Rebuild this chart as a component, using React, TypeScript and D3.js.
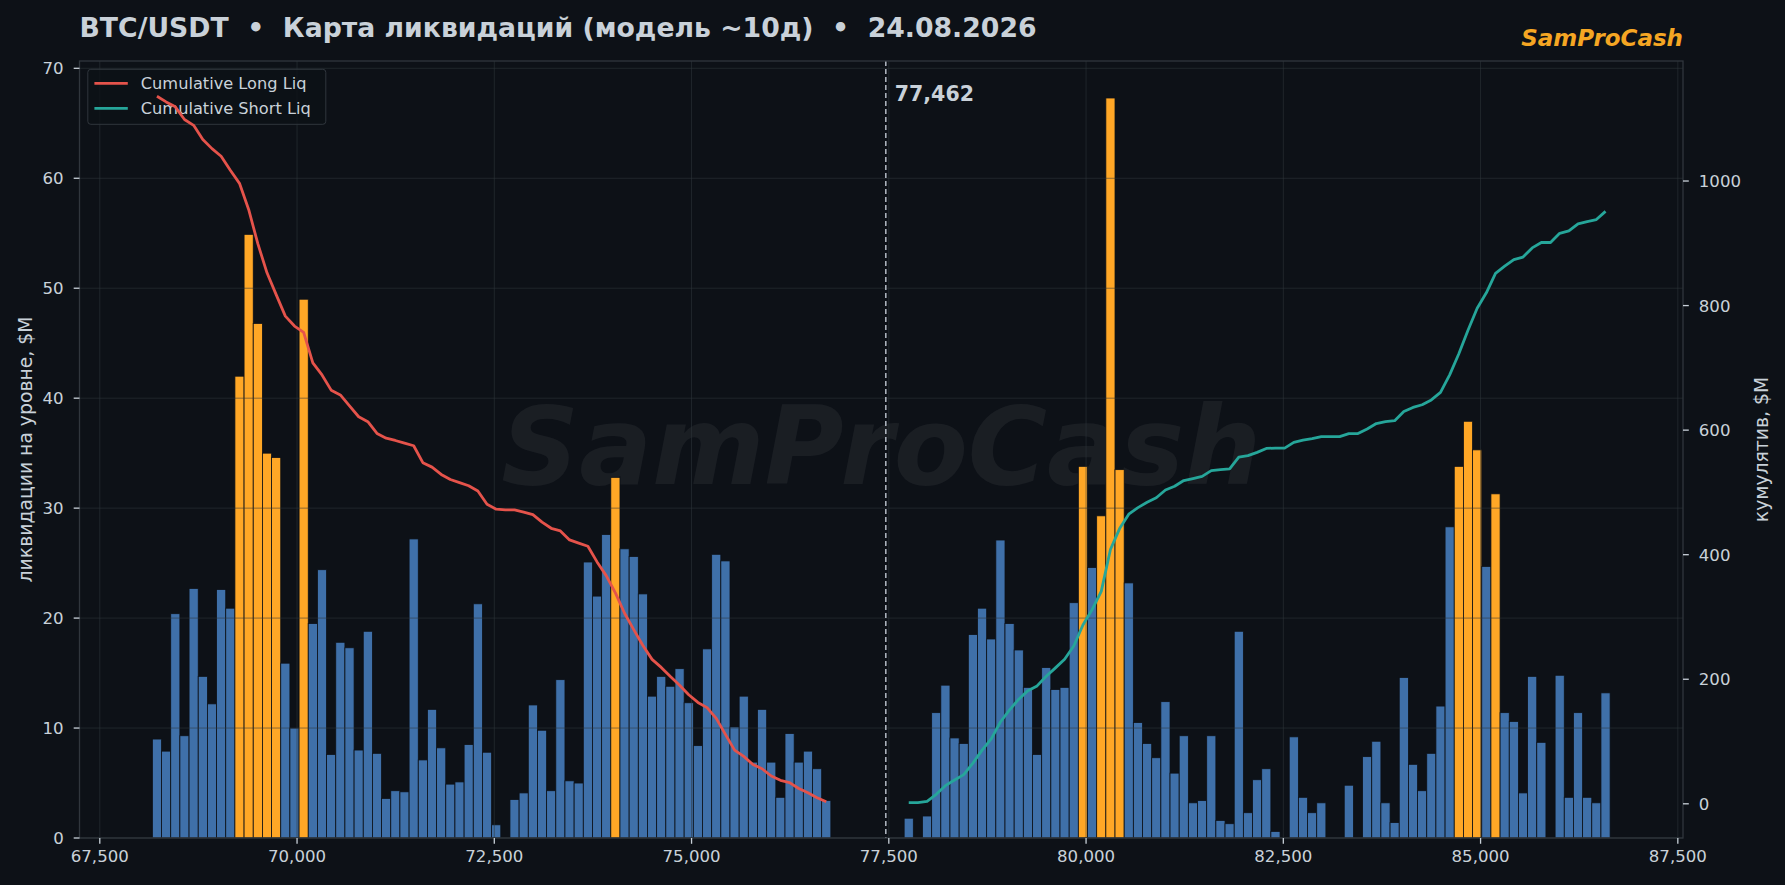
import * as d3 from "d3";
import { useRef, useEffect } from "react";

// price levels: bins of ~0.15% of current price
const PRICE = 77462;
const BIN_STEP = 116.2;
const LONG_START = 68166.6;
const SHORT_START = 77694.4;
const HOT_LEVEL = 28.8; // bars above this are highlighted

// liquidations per level, $M (below price -> longs, above -> shorts)
const longLiq = [
  9.0, 7.9, 20.4, 9.3, 22.7, 14.7, 12.2, 22.6, 20.9, 42.0,
  54.9, 46.8, 35.0, 34.6, 15.9, 10.0, 49.0, 19.5, 24.4, 7.6,
  17.8, 17.3, 8.0, 18.8, 7.7, 3.6, 4.3, 4.2, 27.2, 7.1,
  11.7, 8.2, 4.9, 5.1, 8.5, 21.3, 7.8, 1.2, 0, 3.5,
  4.1, 12.1, 9.8, 4.3, 14.4, 5.2, 5.0, 25.1, 22.0, 27.6,
  32.8, 26.3, 25.6, 22.2, 12.9, 14.7, 13.8, 15.4, 12.3, 8.4,
  17.2, 25.8, 25.2, 10.1, 12.9, 6.9, 11.7, 6.9, 3.7, 9.5,
  6.9, 7.9, 6.3, 3.4,
];

const shortLiq = [
  1.8, 0, 2.0, 11.4, 13.9, 9.1, 8.6, 18.5, 20.9, 18.1,
  27.1, 19.5, 17.1, 13.7, 7.6, 15.5, 13.5, 13.7, 21.4, 33.8,
  24.6, 29.3, 67.3, 33.5, 23.2, 10.5, 8.6, 7.3, 12.4, 5.9,
  9.3, 3.2, 3.4, 9.3, 1.6, 1.3, 18.8, 2.3, 5.3, 6.3,
  0.6, 0, 9.2, 3.7, 2.3, 3.2, 0, 0, 4.8, 0,
  7.4, 8.8, 3.2, 1.4, 14.6, 6.7, 4.3, 7.7, 12.0, 28.3,
  33.8, 37.9, 35.3, 24.7, 31.3, 11.4, 10.6, 4.1, 14.7, 8.7,
  0, 14.8, 3.7, 11.4, 3.7, 3.2, 13.2,
];

const xTicks = [67500, 70000, 72500, 75000, 77500, 80000, 82500, 85000, 87500];
const yTicks = [0, 10, 20, 30, 40, 50, 60, 70];
const cumTicks = [0, 200, 400, 600, 800, 1000];

const TITLE = "BTC/USDT  •  Карта ликвидаций (модель ~10д)  •  24.08.2026";
const BRAND = "SamProCash";
const Y_LABEL = "ликвидации на уровне, $M";
const Y2_LABEL = "кумулятив, $M";
const LONG_NAME = "Cumulative Long Liq";
const SHORT_NAME = "Cumulative Short Liq";

const BG = "#0d1117";
const GRID = "#30363d";
const TEXT = "#c9d1d9";
const BLUE = "#3f70a9";
const ORANGE = "#ffa726";
const RED = "#e5534b";
const TEAL = "#26a69a";
const FONT = "DejaVu Sans, sans-serif";

type Bin = { x0: number; x1: number; v: number };

export default function App() {
  const svgRef = useRef<SVGSVGElement | null>(null);

  useEffect(() => {
    document.body.style.margin = "0";
    document.body.style.background = BG;

    const W = 1785;
    const H = 885;
    const L = 79.5, R = 1683, T = 61, B = 838;

    const svg = d3.select(svgRef.current);
    svg.selectAll("*").remove();
    svg.attr("viewBox", `0 0 ${W} ${H}`).style("font-family", FONT);

    const toBins = (start: number, vals: number[]): Bin[] =>
      vals.map((v, i) => ({ x0: start + i * BIN_STEP, x1: start + (i + 1) * BIN_STEP, v }));
    const longBins = toBins(LONG_START, longLiq);
    const shortBins = toBins(SHORT_START, shortLiq);
    const allBins = [...longBins, ...shortBins];

    const lo = d3.min(allBins, d => d.x0)!;
    const hi = d3.max(allBins, d => d.x1)!;
    const padX = (hi - lo) * 0.05;
    const x = d3.scaleLinear().domain([lo - padX, hi + padX]).range([L, R]);
    const y = d3.scaleLinear().domain([0, d3.max(allBins, d => d.v)! * 1.05]).range([B, T]);

    // cumulative: longs summed from price downwards, shorts upwards
    const longCum = Array.from(d3.cumsum(longLiq.slice().reverse())).reverse();
    const shortCum = Array.from(d3.cumsum(shortLiq));
    const longPts = longBins.map((b, i) => [(b.x0 + b.x1) / 2, longCum[i]] as [number, number]);
    const shortPts = shortBins.map((b, i) => [(b.x0 + b.x1) / 2, shortCum[i]] as [number, number]);
    const cumAll = [...longCum, ...shortCum];
    const cMin = d3.min(cumAll)!, cMax = d3.max(cumAll)!;
    const padC = (cMax - cMin) * 0.05;
    const y2 = d3.scaleLinear().domain([cMin - padC, cMax + padC]).range([B, T]);

    svg.append("rect").attr("width", W).attr("height", H).attr("fill", BG);

    // watermark
    svg.append("text")
      .attr("x", (L + R) / 2)
      .attr("y", 484)
      .attr("text-anchor", "middle")
      .attr("font-size", 108)
      .attr("font-weight", 700)
      .attr("font-style", "italic")
      .attr("fill", "#ffffff")
      .attr("fill-opacity", 0.055)
      .text(BRAND);

    // bars
    svg.append("g")
      .selectAll("rect")
      .data(allBins.filter(d => d.v > 0))
      .join("rect")
      .attr("x", d => x(d.x0))
      .attr("width", d => x(d.x1) - x(d.x0))
      .attr("y", d => y(d.v))
      .attr("height", d => y(0) - y(d.v))
      .attr("fill", d => (d.v > HOT_LEVEL ? ORANGE : BLUE))
      .attr("stroke", BG)
      .attr("stroke-width", 0.8);

    // grid (above bars, below lines)
    const grid = svg.append("g").attr("stroke", GRID).attr("stroke-opacity", 0.55).attr("stroke-width", 1);
    grid.selectAll("line.gx")
      .data(xTicks)
      .join("line")
      .attr("class", "gx")
      .attr("x1", d => x(d)).attr("x2", d => x(d))
      .attr("y1", T).attr("y2", B);
    grid.selectAll("line.gy")
      .data(yTicks)
      .join("line")
      .attr("class", "gy")
      .attr("x1", L).attr("x2", R)
      .attr("y1", d => y(d)).attr("y2", d => y(d));

    // legend (belongs to the bar axes, lines go over it)
    const lg = svg.append("g").attr("transform", `translate(${L + 8.3},${T + 8.3})`);
    lg.append("rect")
      .attr("width", 238).attr("height", 55).attr("rx", 3)
      .attr("fill", BG).attr("fill-opacity", 0.8)
      .attr("stroke", GRID).attr("stroke-width", 1);
    [[LONG_NAME, RED], [SHORT_NAME, TEAL]].forEach(([name, c], i) => {
      const cy = 14 + i * 25;
      lg.append("line")
        .attr("x1", 6.6).attr("x2", 40).attr("y1", cy).attr("y2", cy)
        .attr("stroke", c).attr("stroke-width", 2.7);
      lg.append("text")
        .attr("x", 53).attr("y", cy).attr("dy", "0.35em")
        .attr("font-size", 16.2).attr("fill", TEXT)
        .text(name);
    });

    // cumulative lines
    const line = d3.line<[number, number]>().x(d => x(d[0])).y(d => y2(d[1]));
    svg.append("path").datum(longPts).attr("d", line)
      .attr("fill", "none").attr("stroke", RED).attr("stroke-width", 2.8).attr("stroke-linejoin", "round");
    svg.append("path").datum(shortPts).attr("d", line)
      .attr("fill", "none").attr("stroke", TEAL).attr("stroke-width", 2.8).attr("stroke-linejoin", "round");

    // current price
    svg.append("line")
      .attr("x1", x(PRICE)).attr("x2", x(PRICE)).attr("y1", T).attr("y2", B)
      .attr("stroke", "#b4bcc5").attr("stroke-width", 1.5).attr("stroke-dasharray", "5,3");
    svg.append("text")
      .attr("x", x(PRICE) + 9).attr("y", T + 40)
      .attr("font-size", 20.5).attr("font-weight", 700).attr("fill", TEXT)
      .text(d3.format(",")(PRICE));

    // spines
    svg.append("rect")
      .attr("x", L).attr("y", T).attr("width", R - L).attr("height", B - T)
      .attr("fill", "none").attr("stroke", GRID).attr("stroke-width", 1.3);

    // ticks
    const tickLen = 5.8, tickFs = 16.6;
    const ax = svg.append("g").attr("fill", TEXT).attr("font-size", tickFs);
    xTicks.forEach(t => {
      ax.append("line").attr("x1", x(t)).attr("x2", x(t)).attr("y1", B).attr("y2", B + tickLen)
        .attr("stroke", TEXT).attr("stroke-width", 1.3);
      ax.append("text").attr("x", x(t)).attr("y", B + tickLen + 18)
        .attr("text-anchor", "middle").text(d3.format(",")(t));
    });
    yTicks.forEach(t => {
      ax.append("line").attr("x1", L - tickLen).attr("x2", L).attr("y1", y(t)).attr("y2", y(t))
        .attr("stroke", TEXT).attr("stroke-width", 1.3);
      ax.append("text").attr("x", L - tickLen - 10).attr("y", y(t)).attr("dy", "0.36em")
        .attr("text-anchor", "end").text(t);
    });
    cumTicks.forEach(t => {
      ax.append("line").attr("x1", R).attr("x2", R + tickLen).attr("y1", y2(t)).attr("y2", y2(t))
        .attr("stroke", TEXT).attr("stroke-width", 1.3);
      ax.append("text").attr("x", R + tickLen + 10).attr("y", y2(t)).attr("dy", "0.36em")
        .attr("text-anchor", "start").text(t);
    });

    // axis labels
    const midY = (T + B) / 2;
    svg.append("text")
      .attr("transform", `translate(25,${midY}) rotate(-90)`)
      .attr("text-anchor", "middle").attr("dy", "0.35em")
      .attr("font-size", 18.8).attr("fill", TEXT)
      .text(Y_LABEL);
    svg.append("text")
      .attr("transform", `translate(1761,${midY}) rotate(-90)`)
      .attr("text-anchor", "middle").attr("dy", "0.35em")
      .attr("font-size", 18.8).attr("fill", TEXT)
      .text(Y2_LABEL);

    // title + brand
    svg.append("text")
      .attr("x", L).attr("y", 37)
      .attr("font-size", 26.7).attr("font-weight", 700).attr("fill", TEXT)
      .style("white-space", "pre")
      .text(TITLE);
    svg.append("text")
      .attr("x", R).attr("y", 45.5)
      .attr("text-anchor", "end")
      .attr("font-size", 23).attr("font-weight", 700).attr("font-style", "italic")
      .attr("fill", "#f5a623")
      .text(BRAND);
  }, []);

  return (
    <svg
      ref={svgRef}
      width={1785}
      height={885}
      style={{ display: "block" }}
    />
  );
}
